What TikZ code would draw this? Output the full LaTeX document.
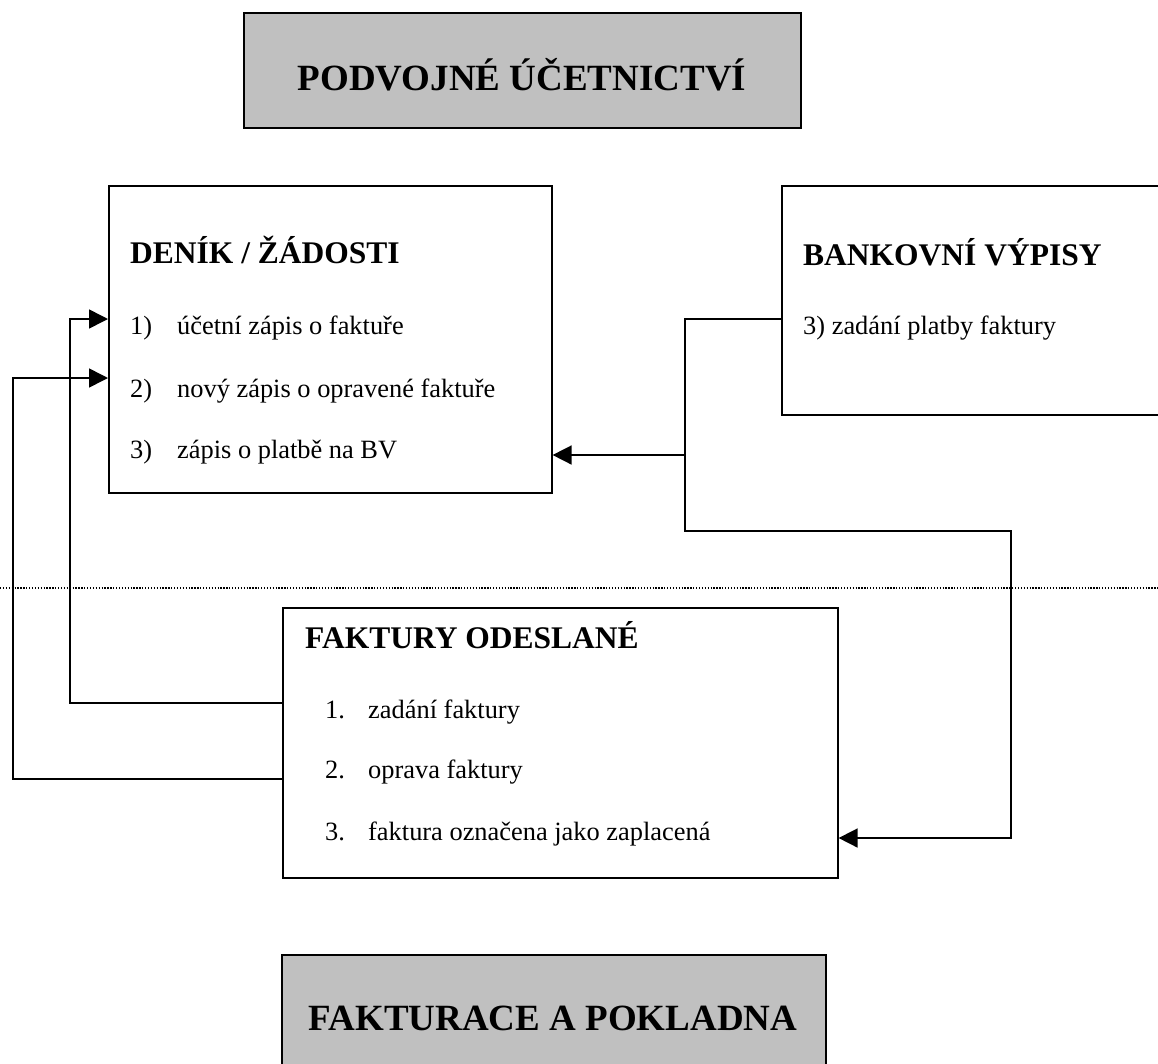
\documentclass[tikz,border=0pt]{standalone}
\usepackage{fontspec}
\setmainfont{Liberation Serif}
\usetikzlibrary{arrows.meta}
\tikzset{
  box/.style={draw=black, line width=1.6pt, rectangle, inner sep=0pt, anchor=north west},
  graybox/.style={box, fill=boxgray},
  txt/.style={anchor=base west, inner sep=0pt, font=\fontsize{26.4}{30}\selectfont},
  head/.style={anchor=base west, inner sep=0pt, font=\bfseries\fontsize{31.5}{36}\selectfont},
  bighead/.style={anchor=base, inner sep=0pt, font=\bfseries\fontsize{37}{42}\selectfont},
  conn/.style={draw=black, line width=1.6pt},
  arr/.style={conn, -{Triangle[length=19pt,width=19pt]}},
  sep/.style={draw=black, line width=1.3pt, dash pattern=on 1.3pt off 1.6pt}
}
\definecolor{boxgray}{HTML}{C0C0C0}
\begin{document}
\begin{tikzpicture}[x=1pt,y=-1pt]
\useasboundingbox (0,0) rectangle (1158,1063);
\clip (0,0) rectangle (1158,1063);
\fill[white] (0,0) rectangle (1158,1063);

% top gray box
\node[graybox, minimum width=557pt, minimum height=115pt] (top) at (243,12) {};
\node[bighead] (toptitle) at (522,90) {PODVOJNÉ ÚČETNICTVÍ};

% deník box
\node[box, minimum width=443pt, minimum height=307pt] (den) at (108,185) {};
\node[head] (dentitle) at (130,263) {DENÍK / ŽÁDOSTI};
\node[txt] (dn1) at (130,334) {1)};
\node[txt] (d1) at (177,334) {účetní zápis o faktuře};
\node[txt] (dn2) at (130,397) {2)};
\node[txt] (d2) at (177,397) {nový zápis o opravené faktuře};
\node[txt] (dn3) at (130,458) {3)};
\node[txt] (d3) at (177,458) {zápis o platbě na BV};

% bank box
\node[box, minimum width=420pt, minimum height=229pt] (bank) at (781,185) {};
\node[head] (banktitle) at (803,265) {BANKOVNÍ VÝPISY};
\node[txt] (b1) at (803,334) {3) zadání platby faktury};

% separator
\coordinate (sepL) at (0,588);
\coordinate (sepR) at (1158,588);
\draw[sep] (sepL) -- (sepR);

% faktury box
\node[box, fill=white, minimum width=555pt, minimum height=270pt] (fo) at (282,607) {};
\node[head] (fotitle) at (305,648) {FAKTURY ODESLANÉ};
\node[txt] (fn1) at (325,718) {1.};
\node[txt] (f1) at (368,718) {zadání faktury};
\node[txt] (fn2) at (325,778) {2.};
\node[txt] (f2) at (368,778) {oprava faktury};
\node[txt] (fn3) at (325,840) {3.};
\node[txt] (f3) at (368,840) {faktura označena jako zaplacená};

% bottom gray box
\node[graybox, minimum width=544pt, minimum height=140pt] (bot) at (281,954) {};
\node[bighead] (bottitle) at (553,1030) {FAKTURACE A POKLADNA};

% connectors
\draw[arr] (fo.west |- 0,703) -- (70,703) -- (70,319) -- (den.west |- 0,319);
\draw[arr] (fo.west |- 0,779) -- (13,779) -- (13,378) -- (den.west |- 0,378);
\draw[arr] (bank.west |- 0,319) -- (685,319) -- (685,531) -- (1011,531) -- (1011,838) -- (fo.east |- 0,838);
\draw[arr] (685,455) -- (den.east |- 0,455);
\end{tikzpicture}
\end{document}
